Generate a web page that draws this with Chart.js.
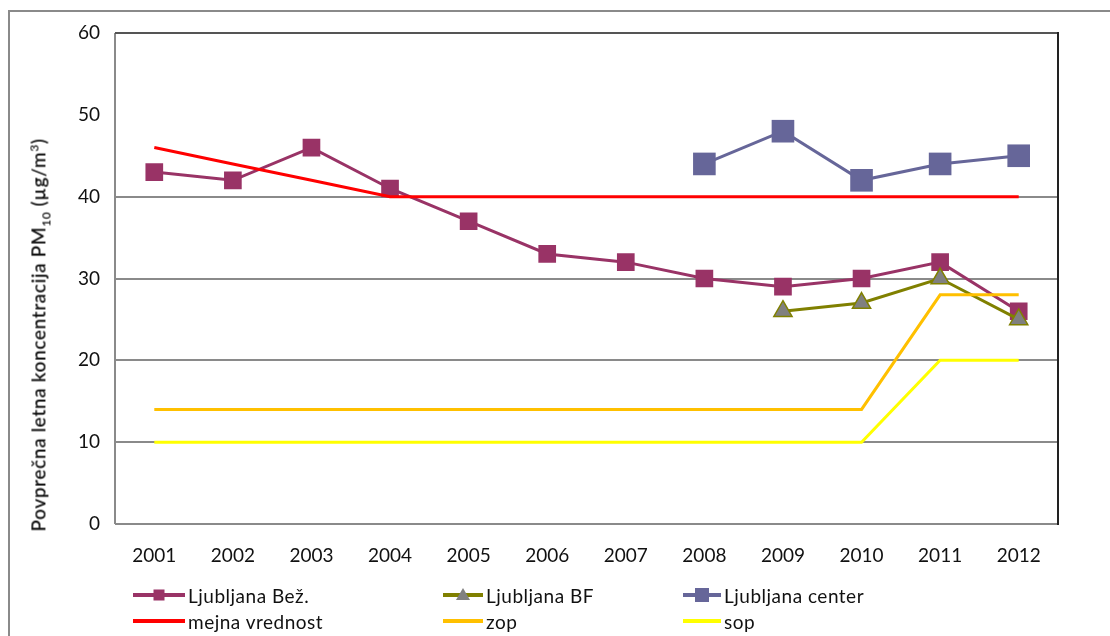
<!DOCTYPE html>
<html>
<head>
<meta charset="utf-8">
<script src="https://cdn.jsdelivr.net/npm/chart.js@4.4.0/dist/chart.umd.min.js"></script>
<style>
  html, body { margin: 0; padding: 0; background: #fff; }
  #wrap { position: relative; width: 1110px; height: 636px; overflow: hidden; font-family: Lato, "Open Sans", sans-serif; }
  #frame { position: absolute; left: 8px; top: 10px; width: 1200px; height: 700px; border-left: 2px solid #8a8a8a; border-top: 2px solid #8a8a8a; }
  canvas { position: absolute; left: 0; top: 0; }
  #ytitle { position: absolute; left: 40px; top: 335px; transform: translate(-50%, -50%) rotate(-90deg); white-space: nowrap; font-size: 19px; letter-spacing: 0.6px; color: #111; font-weight: 600; }
  .leg { position: absolute; font-size: 19px; letter-spacing: 0.5px; color: #111; display: flex; align-items: center; height: 22px; }
  .leg .sample { position: relative; height: 22px; margin-right: 3px; }
  .leg .sample .ln { position: absolute; left: 0; right: 0; top: 9px; height: 4px; }
  .leg .sample .mk { position: absolute; left: 50%; top: 50%; transform: translate(-50%, -50%); }
</style>
</head>
<body>
<div id="wrap">
  <div id="frame"></div>
  <canvas id="c" width="1110" height="636"></canvas>
  <div id="ytitle">Povprečna letna koncentracija PM<sub style="font-size:12px">10</sub> (µg/m<sup style="font-size:12px">3</sup>)</div>
  <div id="legend"></div>
</div>
<script>
const years = ['2001', '2002', '2003', '2004', '2005', '2006', '2007', '2008', '2009', '2010', '2011', '2012'];
const bezigrad = [43, 42, 46, 41, 37, 33, 32, 30, 29, 30, 32, 26];
const bf = [null, null, null, null, null, null, null, null, 26, 27, 30, 25];
const center = [null, null, null, null, null, null, null, 44, 48, 42, 44, 45];
const mejna = [46, 44, 42, 40, 40, 40, 40, 40, 40, 40, 40, 40];
const zop = [14, 14, 14, 14, 14, 14, 14, 14, 14, 14, 28, 28];
const sop = [10, 10, 10, 10, 10, 10, 10, 10, 10, 10, 20, 20];
const yTicks = [0, 10, 20, 30, 40, 50, 60];

const series = [
    { label: 'Ljubljana Bež.', data: bezigrad, color: '#993366', fill: '#993366', style: 'rect', radius: 12.5 },
    { label: 'Ljubljana BF', data: bf, color: '#808000', fill: '#808080', style: 'triangle', radius: 10.5 },
    { label: 'Ljubljana center', data: center, color: '#666699', fill: '#666699', style: 'rect', radius: 16 },
    { label: 'mejna vrednost', data: mejna, color: '#ff0000' },
    { label: 'zop', data: zop, color: '#ffc000' },
    { label: 'sop', data: sop, color: '#ffff00' },
];

const datasets = series.map((s, i) => ({
    label: s.label,
    data: s.data,
    borderColor: s.color,
    borderWidth: 3,
    backgroundColor: s.fill || s.color,
    pointStyle: s.style || false,
    pointRadius: s.style ? s.radius : 0,
    pointBackgroundColor: s.fill || s.color,
    pointBorderColor: s.style === 'triangle' ? s.color : (s.fill || s.color),
    pointBorderWidth: s.style === 'triangle' ? 1.5 : 0,
    tension: 0,
    spanGaps: false,
    order: series.length - i,
}));

const frame = {
    id: 'frame',
    afterDraw(chart) {
        const a = chart.chartArea;
        const ctx = chart.ctx;
        ctx.save();
        ctx.strokeStyle = '#8a8a8a';
        ctx.lineWidth = 2;
        ctx.beginPath();
        ctx.moveTo(a.left, a.bottom);
        ctx.lineTo(a.left, a.top);
        ctx.moveTo(a.left, a.bottom);
        ctx.lineTo(a.right, a.bottom);
        ctx.stroke();
        ctx.strokeStyle = '#555';
        ctx.beginPath();
        ctx.moveTo(a.left, a.top);
        ctx.lineTo(a.right, a.top);
        ctx.stroke();
        ctx.strokeStyle = '#222';
        ctx.beginPath();
        ctx.moveTo(a.right, a.top - 1);
        ctx.lineTo(a.right, a.bottom + 1);
        ctx.stroke();
        ctx.restore();
    },
};

new Chart(document.getElementById('c'), {
    type: 'line',
    data: { labels: years, datasets },
    options: {
        responsive: false,
        animation: false,
        layout: { padding: { left: 0, top: 33, right: 52, bottom: 0 } },
        plugins: { legend: { display: false }, tooltip: { enabled: false } },
        scales: {
            x: {
                offset: true,
                grid: { display: false, drawTicks: false },
                border: { display: false },
                ticks: { color: '#111', font: { family: 'Lato', size: 19 }, padding: 20, maxRotation: 0 },
                afterFit(s) { s.height = 112; },
            },
            y: {
                min: 0,
                max: 60,
                afterBuildTicks(s) { s.ticks = yTicks.map(v => ({ value: v })); },
                grid: {
                    drawTicks: false,
                    lineWidth: 2,
                    color: ctx => ([10, 20, 30, 40].includes(ctx.tick && ctx.tick.value) ? '#8a8a8a' : 'rgba(0,0,0,0)'),
                },
                border: { display: false },
                ticks: { color: '#111', font: { family: 'Lato', size: 19 }, padding: 15 },
                afterFit(s) { s.width = 115; },
            },
        },
    },
    plugins: [frame],
});

// legend laid out in three columns like the original
const legendPos = [
    { left: 133, top: 584, w: 52 },
    { left: 443, top: 584, w: 40 },
    { left: 683, top: 584, w: 38 },
    { left: 133, top: 610, w: 52 },
    { left: 443, top: 610, w: 40 },
    { left: 683, top: 610, w: 38 },
];
const legend = document.getElementById('legend');
series.forEach((s, i) => {
    const p = legendPos[i];
    const item = document.createElement('div');
    item.className = 'leg';
    item.style.left = p.left + 'px';
    item.style.top = p.top + 'px';
    let mk = '';
    if (s.style === 'rect') {
        const sz = s.radius > 14 ? 14 : 11;
        mk = '<div class="mk" style="width:' + sz + 'px;height:' + sz + 'px;background:' + s.fill + '"></div>';
    } else if (s.style === 'triangle') {
        mk = '<div class="mk" style="width:0;height:0;border-left:7px solid transparent;border-right:7px solid transparent;border-bottom:12px solid ' + s.fill + ';margin-top:-1px"></div>';
    }
    item.innerHTML = '<div class="sample" style="width:' + p.w + 'px"><div class="ln" style="background:' + s.color + '"></div>' + mk + '</div><span>' + s.label + '</span>';
    legend.appendChild(item);
});
</script>
</body>
</html>
